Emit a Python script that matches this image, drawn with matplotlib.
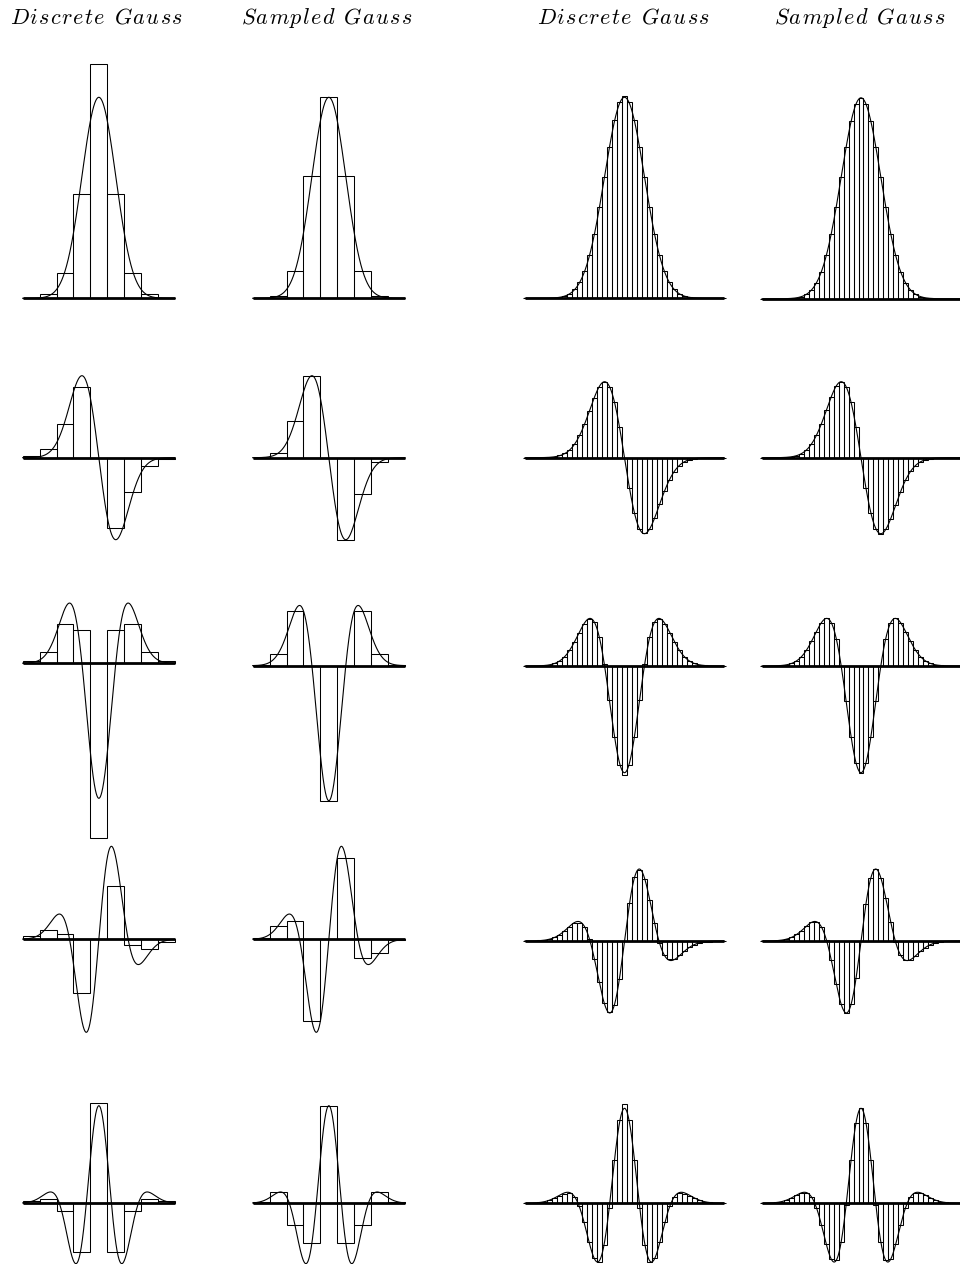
import numpy as np
import matplotlib
matplotlib.use("Agg")
import matplotlib.pyplot as plt

plt.rcParams['mathtext.fontset'] = 'cm'

# ---------------- data ----------------
column_titles = ["Discrete Gauss", "Sampled Gauss", "Discrete Gauss", "Sampled Gauss"]
scale_t = [1.0, 16.0]          # variance t of the kernels in the left / right pair
orders = [0, 1, 2, 3, 4]      # derivative order per row
n_left = list(range(-4, 5))
n_right = list(range(-20, 21))

# t = 1, discrete Gauss (central differences), n = -4..4
disc_t1_d0 = [0.00101, 0.00816, 0.04994, 0.20791, 0.46576, 0.20791, 0.04994, 0.00816, 0.00101]
disc_t1_d1 = [0.00403, 0.02447, 0.09988, 0.20791, 0.0, -0.20791, -0.09988, -0.02447, -0.00403]
disc_t1_d2 = [0.00624, 0.03464, 0.11619, 0.09988, -0.51570, 0.09988, 0.11619, 0.03464, 0.00624]
disc_t1_d3 = [0.01691, 0.05497, 0.03262, -0.31594, 0.0, 0.31594, -0.03262, -0.05497, -0.01691]
disc_t1_d4 = [0.02297, 0.05316, -0.09786, -0.59927, 1.23116, -0.59927, -0.09786, 0.05316, 0.02297]
# t = 1, sampled Gauss, n = -4..4
samp_t1_d0 = [0.00013, 0.00443, 0.05399, 0.24197, 0.39894, 0.24197, 0.05399, 0.00443, 0.00013]
samp_t1_d1 = [0.00054, 0.01330, 0.10798, 0.24197, 0.0, -0.24197, -0.10798, -0.01330, -0.00054]
samp_t1_d2 = [0.00201, 0.03546, 0.16197, 0.0, -0.39894, 0.0, 0.16197, 0.03546, 0.00201]
samp_t1_d3 = [0.00696, 0.07977, 0.10798, -0.48394, 0.0, 0.48394, -0.10798, -0.07977, -0.00696]
samp_t1_d4 = [0.02181, 0.13296, -0.26996, -0.48394, 1.19683, -0.48394, -0.26996, 0.13296, 0.02181]

# t = 16, values in units of 1e-6, n = -20..20
disc_t16_d0 = [1, 3, 7, 19, 48, 114, 262, 572, 1192, 2360, 4437, 7907, 13333, 21240, 31918, 45179, 60155,
               75256, 88375, 97350, 100544, 97350, 88375, 75256, 60155, 45179, 31918, 21240, 13333, 7907,
               4437, 2360, 1192, 572, 262, 114, 48, 19, 7, 3, 1]
disc_t16_d1 = [1, 3, 8, 20, 48, 107, 229, 465, 894, 1623, 2773, 4448, 6666, 9293, 11969, 14118, 15039,
               14110, 11047, 6084, 0, -6084, -11047, -14110, -15039, -14118, -11969, -9293, -6666, -4448,
               -2773, -1623, -894, -465, -229, -107, -48, -20, -8, -3, -1]
disc_t16_d2 = [1, 3, 7, 17, 38, 81, 163, 309, 549, 909, 1393, 1956, 2481, 2771, 2583, 1715, 125, -1982,
               -4145, -5780, -6389, -5780, -4145, -1982, 125, 1715, 2583, 2771, 2481, 1956, 1393, 909, 549,
               309, 163, 81, 38, 17, 7, 3, 1]
disc_t16_d3 = [1, 3, 7, 15, 32, 63, 114, 193, 300, 422, 524, 544, 407, 51, -528, -1229, -1849, -2135,
               -1899, -1122, 0, 1122, 1899, 2135, 1849, 1229, 528, -51, -407, -544, -524, -422, -300, -193,
               -114, -63, -32, -15, -7, -3, -1]
disc_t16_d4 = [1, 2, 5, 11, 22, 39, 64, 94, 120, 124, 80, -38, -236, -478, -679, -723, -517, -57, 530,
               1025, 1219, 1025, 530, -57, -517, -723, -679, -478, -236, -38, 80, 124, 120, 94, 64, 39, 22,
               11, 5, 2, 1]
samp_t16_d0 = [0, 1, 4, 12, 33, 88, 218, 507, 1108, 2273, 4382, 7935, 13498, 21569, 32379, 45662, 60493,
               75284, 88016, 96667, 99736, 96667, 88016, 75284, 60493, 45662, 32379, 21569, 13498, 7935,
               4382, 2273, 1108, 507, 218, 88, 33, 12, 4, 1, 0]
samp_t16_d1 = [0, 1, 4, 13, 33, 83, 191, 412, 831, 1563, 2739, 4463, 6749, 9437, 12142, 14269, 15123,
               14116, 11002, 6042, 0, -6042, -11002, -14116, -15123, -14269, -12142, -9437, -6749, -4463,
               -2739, -1563, -831, -412, -191, -83, -33, -13, -4, -1, 0]
samp_t16_d2 = [1, 2, 5, 13, 31, 72, 153, 303, 554, 932, 1438, 2015, 2531, 2780, 2530, 1605, 0, -2059,
               -4126, -5664, -6233, -5664, -4126, -2059, 0, 1605, 2530, 2780, 2531, 2015, 1438, 932, 554,
               303, 153, 72, 31, 13, 5, 2, 1]
samp_t16_d3 = [1, 2, 5, 12, 27, 57, 110, 195, 312, 446, 556, 575, 422, 37, -569, -1282, -1890, -2150,
               -1891, -1109, 0, 1109, 1891, 2150, 1890, 1282, 569, -37, -422, -575, -556, -446, -312, -195,
               -110, -57, -27, -12, -5, -2, -1]
samp_t16_d4 = [1, 2, 5, 10, 21, 40, 68, 101, 130, 132, 78, -54, -264, -505, -688, -702, -473, -17, 537,
               993, 1169, 993, 537, -17, -473, -702, -688, -505, -264, -54, 78, 132, 130, 101, 68, 40, 21,
               10, 5, 2, 1]

disc_t1 = [disc_t1_d0, disc_t1_d1, disc_t1_d2, disc_t1_d3, disc_t1_d4]
samp_t1 = [samp_t1_d0, samp_t1_d1, samp_t1_d2, samp_t1_d3, samp_t1_d4]
disc_t16 = [np.array(v) * 1e-6 for v in (disc_t16_d0, disc_t16_d1, disc_t16_d2, disc_t16_d3, disc_t16_d4)]
samp_t16 = [np.array(v) * 1e-6 for v in (samp_t16_d0, samp_t16_d1, samp_t16_d2, samp_t16_d3, samp_t16_d4)]


def gauss_deriv(x, t, m):
    """Continuous Gaussian derivative of order m (reference curve)."""
    s = np.sqrt(t)
    u = np.asarray(x, float) / s
    g = np.exp(-u ** 2 / 2) / (s * np.sqrt(2 * np.pi))
    He = [np.ones_like(u), u, u ** 2 - 1, u ** 3 - 3 * u, u ** 4 - 6 * u ** 2 + 3][m]
    return (-1 / s) ** m * He * g


def spaced_title(text, gap=0.07, word_gap=0.5):
    words = [(r"\hspace{%g}" % gap).join(w) for w in text.split(" ")]
    return "$" + (r"\hspace{%g}" % word_gap).join(words) + "$"


# ---------------- layout (pixels) ----------------
W, H = 960, 1264
col_x = [(22.7, 175.0), (252.7, 405.0), (525.0, 724.0), (762.0, 960.0)]
half_range = [4.5, 4.5, 20.0, 20.0]
bands = [(40, 335), (335, 570), (575, 850), (830, 1060), (1070, 1264)]
base_left = [[298.3, 298.3], [457.7, 457.7], [663.3, 665.7], [939.3, 939.3], [1203.3, 1203.3]]
base_right = [[298.3, 298.8], [457.7, 457.7], [666.0, 666.0], [941.0, 941.0], [1203.3, 1203.3]]
peak_px_left = [201.0, 82.0, 135.0, 93.0, 97.6]
peak_px_right = [201.0, 76.0, 106.7, 72.0, 95.0]

fig = plt.figure(figsize=(W / 100, H / 100), dpi=100)

for r, m in enumerate(orders):
    for c in range(4):
        t = scale_t[0] if c < 2 else scale_t[1]
        X = half_range[c]
        ns = n_left if c < 2 else n_right
        vals = [disc_t1, samp_t1, disc_t16, samp_t16][c][r]
        xs = np.linspace(-X, X, 1200)
        curve = gauss_deriv(xs, t, m)
        peak = np.max(np.abs(gauss_deriv(np.linspace(-X, X, 4001), t, m)))
        k = (peak_px_left[r] if c < 2 else peak_px_right[r]) / peak
        b = (base_left[r] if c < 2 else base_right[r])[c % 2]
        top, bot = bands[r]
        x0, x1 = col_x[c]
        ax = fig.add_axes([x0 / W, 1 - bot / H, (x1 - x0) / W, (bot - top) / H])
        ax.set_xlim(-X, X)
        ax.set_ylim(-(bot - b) / k, (b - top) / k)
        ax.axis('off')
        ax.bar(ns, vals, width=1.0, fill=False, edgecolor='black', linewidth=0.75, clip_on=False)
        ax.plot(xs, curve, color='black', linewidth=0.8, clip_on=False)
        ax.plot([-X, X], [0, 0], color='black', linewidth=2.0, solid_capstyle='butt', clip_on=False)

title_x = [97, 327, 624, 859.5]
for c in range(4):
    fig.text(title_x[c] / W, 1 - 18 / H, spaced_title(column_titles[c]), ha='center', va='center',
             fontsize=16)

fig.savefig("out.png", dpi=100)
